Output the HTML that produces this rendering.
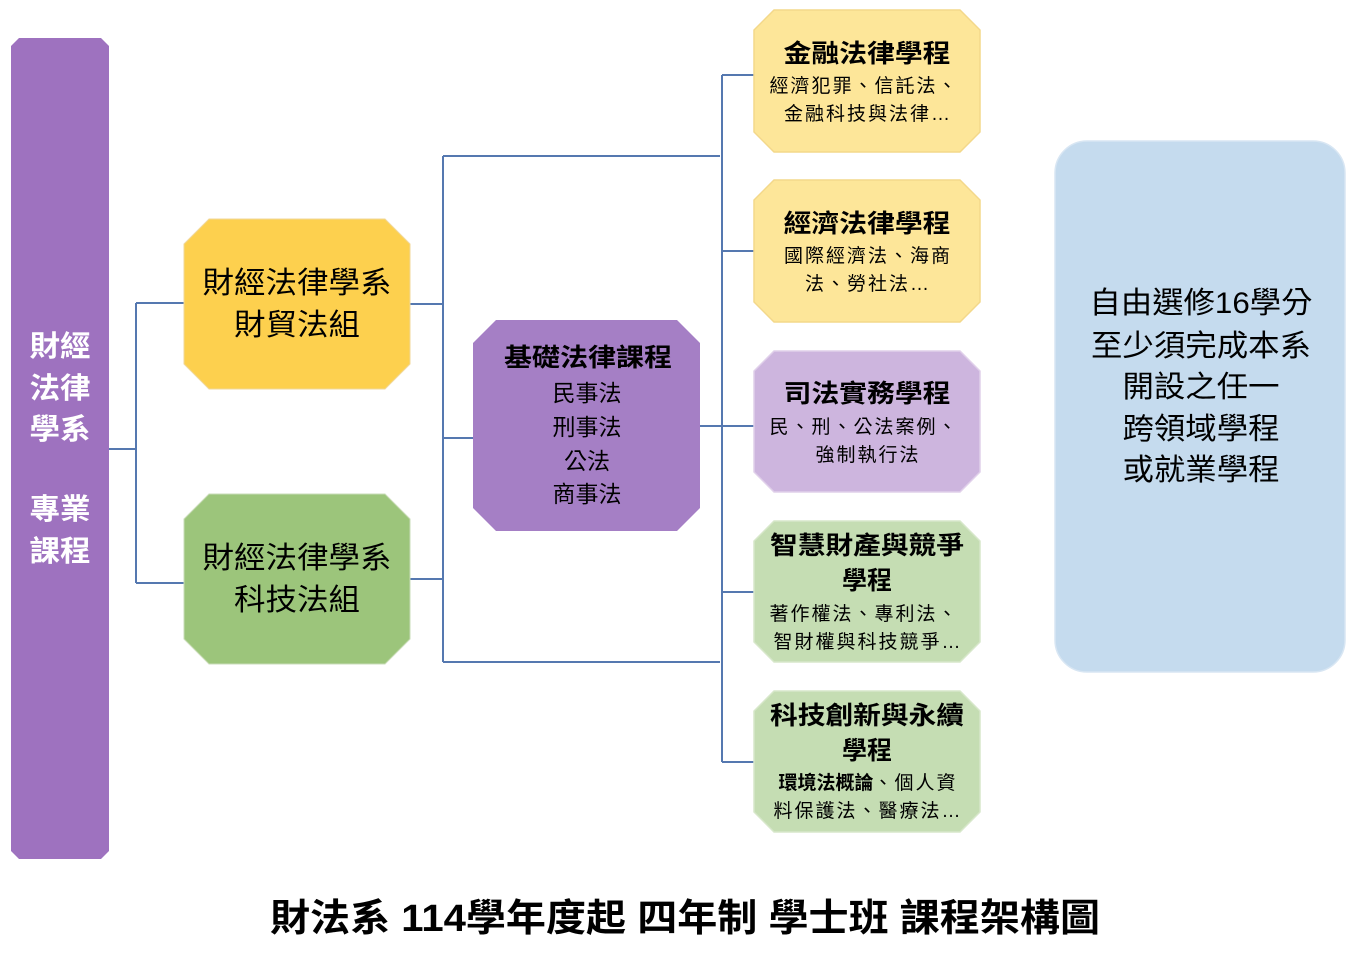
<!DOCTYPE html>
<html><head><meta charset="utf-8"><style>
html,body{margin:0;padding:0;background:#fff;}
svg{display:block;}
text{font-family:"Liberation Sans","Noto Sans CJK TC",sans-serif;}
</style></head><body>
<svg width="1356" height="971" viewBox="0 0 1356 971" xmlns="http://www.w3.org/2000/svg">
<g stroke="#5578b0" stroke-width="2" fill="none">
<path d="M109 449H136M136 303V583M136 303H184M136 583H184"/>
<path d="M410 304H443M410 579H443M443 156V662M443 156H720M443 662H720M443 438H473"/>
<path d="M700 426H754M722 75V762M722 75H754M722 251H754M722 592H754M722 762H754"/>
</g>
<polygon points="19,38 101,38 109,46 109,851 101,859 19,859 11,851 11,46" fill="#9e72bf"/>
<g fill="#fff" font-size="29" font-weight="bold" text-anchor="middle">
<text x="60" y="356" textLength="61" lengthAdjust="spacingAndGlyphs">財經</text><text x="60" y="398" textLength="61" lengthAdjust="spacingAndGlyphs">法律</text><text x="60" y="439" textLength="61" lengthAdjust="spacingAndGlyphs">學系</text>
<text x="60" y="519" textLength="61" lengthAdjust="spacingAndGlyphs">專業</text><text x="60" y="561" textLength="61" lengthAdjust="spacingAndGlyphs">課程</text>
</g>
<polygon points="209,219 385,219 410,244 410,364 385,389 209,389 184,364 184,244" fill="#fdd04e" stroke="#f0d79a" stroke-width="1"/>
<polygon points="209,494 385,494 410,519 410,639 385,664 209,664 184,639 184,519" fill="#9cc57b" stroke="#c9dcb8" stroke-width="1"/>
<g fill="#000" font-size="30" text-anchor="middle">
<text x="297" y="293" textLength="189" lengthAdjust="spacingAndGlyphs">財經法律學系</text><text x="297" y="335" textLength="126" lengthAdjust="spacingAndGlyphs">財貿法組</text>
<text x="297" y="568" textLength="189" lengthAdjust="spacingAndGlyphs">財經法律學系</text><text x="297" y="610" textLength="126" lengthAdjust="spacingAndGlyphs">科技法組</text>
</g>
<polygon points="496,320 677,320 700,343 700,508 677,531 496,531 473,508 473,343" fill="#a57fc5"/>
<g fill="#000" text-anchor="middle">
<text x="588" y="366" font-size="25" font-weight="bold" textLength="168" lengthAdjust="spacingAndGlyphs">基礎法律課程</text>
<text x="587" y="401" font-size="23">民事法</text>
<text x="587" y="435" font-size="23">刑事法</text>
<text x="587" y="469" font-size="23">公法</text>
<text x="587" y="502" font-size="23">商事法</text>
</g>
<g stroke-width="1.5">
<polygon points="774,10 960,10 980,30 980,132 960,152 774,152 754,132 754,30" fill="#fde699" stroke="#f3d88a"/>
<polygon points="774,180 960,180 980,200 980,302 960,322 774,322 754,302 754,200" fill="#fde699" stroke="#f3d88a"/>
<polygon points="774,351 960,351 980,371 980,472 960,492 774,492 754,472 754,371" fill="#cdb5de" stroke="#e0d0ea"/>
<polygon points="774,521 960,521 980,541 980,642 960,662 774,662 754,642 754,541" fill="#c5ddb3" stroke="#d7e7ca"/>
<polygon points="774,691 960,691 980,711 980,812 960,832 774,832 754,812 754,711" fill="#c5ddb3" stroke="#d7e7ca"/>
</g>
<g fill="#000" text-anchor="middle">
<text x="867" y="62" font-size="25" font-weight="bold" textLength="167" lengthAdjust="spacingAndGlyphs">金融法律學程</text>
<text x="864" y="92" font-size="19" letter-spacing="2">經濟犯罪、信託法、</text>
<text x="868" y="120" font-size="19" letter-spacing="2">金融科技與法律…</text>
<text x="867" y="232" font-size="25" font-weight="bold" textLength="167" lengthAdjust="spacingAndGlyphs">經濟法律學程</text>
<text x="868" y="262" font-size="19" letter-spacing="2">國際經濟法、海商</text>
<text x="868" y="290" font-size="19" letter-spacing="2">法、勞社法…</text>
<text x="867" y="402" font-size="25" font-weight="bold" textLength="167" lengthAdjust="spacingAndGlyphs">司法實務學程</text>
<text x="864" y="433" font-size="19" letter-spacing="2">民、刑、公法案例、</text>
<text x="868" y="461" font-size="19" letter-spacing="2">強制執行法</text>
<text x="867" y="554" font-size="25" font-weight="bold" textLength="194" lengthAdjust="spacingAndGlyphs">智慧財產與競爭</text>
<text x="867" y="589" font-size="25" font-weight="bold">學程</text>
<text x="864" y="620" font-size="19" letter-spacing="2">著作權法、專利法、</text>
<text x="868" y="648" font-size="19" letter-spacing="2">智財權與科技競爭…</text>
<text x="867" y="724" font-size="25" font-weight="bold" textLength="194" lengthAdjust="spacingAndGlyphs">科技創新與永續</text>
<text x="867" y="759" font-size="25" font-weight="bold">學程</text>
<text x="868" y="789" font-size="19" letter-spacing="2"><tspan font-weight="bold" letter-spacing="0">環境法概論</tspan>、個人資</text>
<text x="868" y="817" font-size="19" letter-spacing="2">料保護法、醫療法…</text>
</g>
<rect x="1055" y="141" width="290" height="531" rx="32" fill="#c5dbee" stroke="#d8e6f3" stroke-width="1.5"/>
<g fill="#000" font-size="30" text-anchor="middle">
<text x="1201" y="313" textLength="223" lengthAdjust="spacingAndGlyphs">自由選修16學分</text>
<text x="1201" y="356" textLength="220" lengthAdjust="spacingAndGlyphs">至少須完成本系</text>
<text x="1201" y="397" textLength="157" lengthAdjust="spacingAndGlyphs">開設之任一</text>
<text x="1201" y="439" textLength="157" lengthAdjust="spacingAndGlyphs">跨領域學程</text>
<text x="1201" y="480" textLength="157" lengthAdjust="spacingAndGlyphs">或就業學程</text>
</g>
<text x="685" y="931" font-size="38" font-weight="bold" text-anchor="middle" fill="#000" textLength="830" lengthAdjust="spacingAndGlyphs">財法系 114學年度起 四年制 學士班 課程架構圖</text>
</svg>
</body></html>
